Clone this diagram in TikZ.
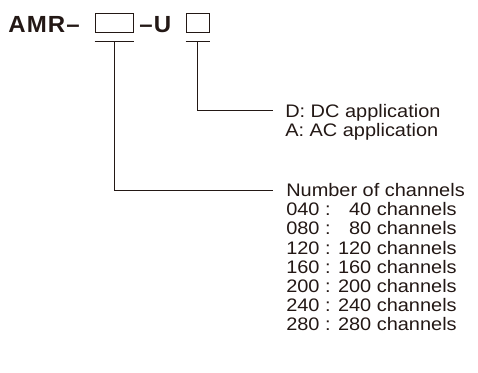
\documentclass[tikz,border=0pt]{standalone}
\usepackage{fontspec}
\setmainfont{Liberation Sans}
\newfontfamily\hdrfont[LetterSpace=5,FakeStretch=1.03]{Liberation Sans Bold}
\newfontfamily\bodyfont[FakeStretch=1.1]{Liberation Sans}
\definecolor{ink}{RGB}{35,24,21}
\begin{document}
\begin{tikzpicture}[x=0.75pt,y=-0.75pt,
  ln/.style={draw=ink,line width=0.75pt},
  box/.style={draw=ink,line width=0.75pt,inner sep=0pt,minimum height=14.25pt},
  hdrtext/.style={anchor=base west,inner sep=0pt,text=ink,font=\hdrfont\fontsize{17.5pt}{19pt}\selectfont},
  lbl/.style={anchor=base west,inner sep=0pt,text=ink,text height=9.7pt,text depth=0pt,font=\bodyfont\fontsize{13.6pt}{15pt}\selectfont}]
\useasboundingbox (0,0) rectangle (478,373);
% header
\node[hdrtext] (amr) at (8,33) {AMR–};
\node[box,minimum width=28.5pt] (b1) at (114,23.5) {};
\node[hdrtext] (du) at (139,33) {–U};
\node[box,minimum width=17.25pt] (b2) at (197.5,23.5) {};
% underlines
\draw[ln] ([yshift=-6pt]b1.south west) -- ([yshift=-6pt]b1.south east);
\draw[ln] ([yshift=-6pt]b2.south west) -- ([yshift=-6pt]b2.south east);
% application
\node[lbl] (dc) at (285,117.3) {D: DC application};
\node[lbl] (ac) at (285,136.4) {A: AC application};
% channels
\node[lbl] (nc) at (286,196.8) {Number of channels};
\node[lbl] (c1) at (286,215.9) {040 : \hphantom{1}40 channels};
\node[lbl] (c2) at (286,235.0) {080 : \hphantom{1}80 channels};
\node[lbl] (c3) at (286,254.1) {120 : 120 channels};
\node[lbl] (c4) at (286,273.2) {160 : 160 channels};
\node[lbl] (c5) at (286,292.3) {200 : 200 channels};
\node[lbl] (c6) at (286,311.4) {240 : 240 channels};
\node[lbl] (c7) at (286,330.5) {280 : 280 channels};
% connectors
\draw[ln] ([yshift=-6pt]b2.south) |- ([xshift=-9pt]dc.west);
\draw[ln] ([yshift=-6pt]b1.south) |- ([xshift=-9.75pt]nc.west);
\end{tikzpicture}
\end{document}
